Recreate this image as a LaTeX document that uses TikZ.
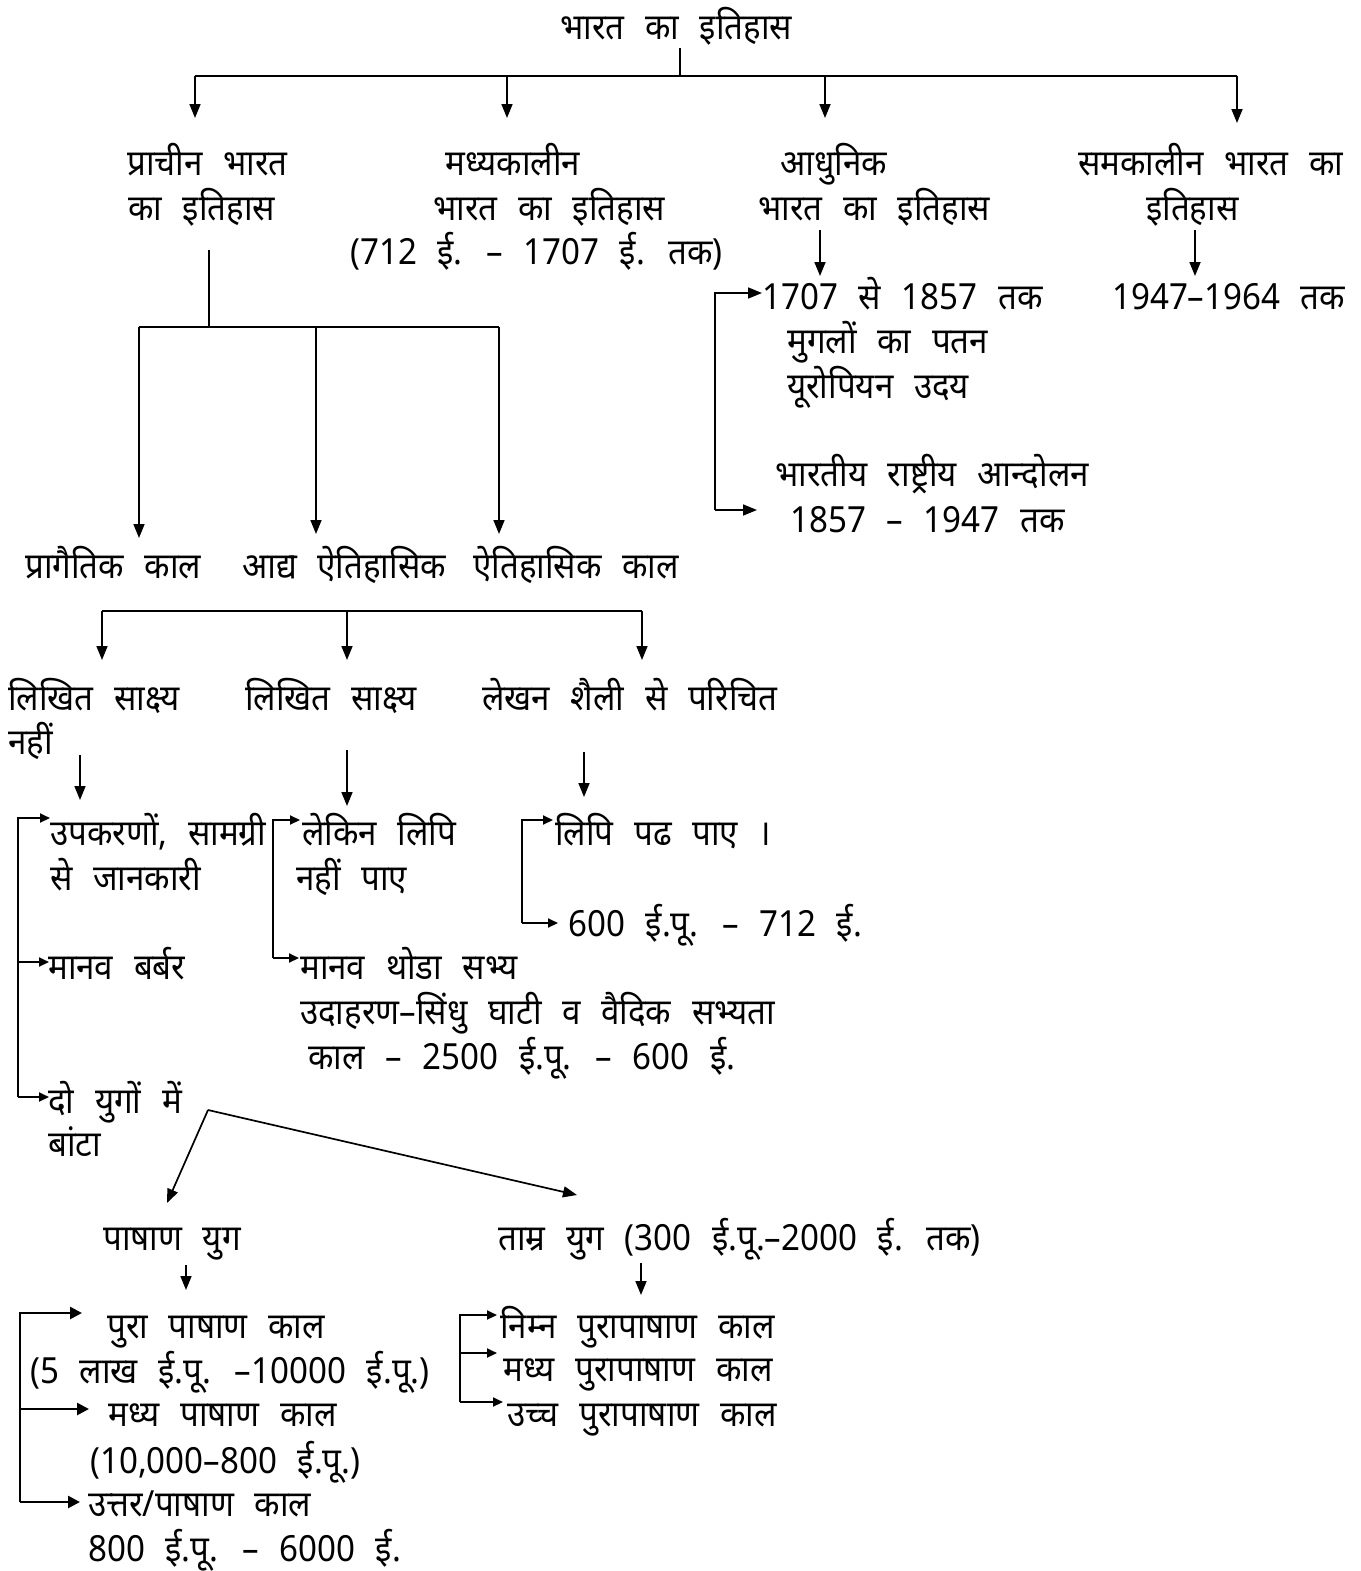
\documentclass[tikz,border=0pt]{standalone}
\usepackage{fontspec}
\setmainfont{Noto Sans}[Script=Devanagari, FakeStretch=0.92, WordSpace=2.4]
\usetikzlibrary{arrows.meta}
\newcommand{\fs}{\fontsize{36}{42}\selectfont}
\begin{document}
\begin{tikzpicture}[x=1pt,y=-1pt,
  txt/.style={anchor=base west, inner sep=0pt, yshift=-13pt, font=\fs},
  ln/.style={line width=1.7pt},
  arr/.style={line width=1.7pt, -{Triangle[length=14pt,width=11pt]}},
  sarr/.style={line width=2pt, -{Triangle[length=10pt,width=9pt]}},
  barr/.style={line width=2.6pt, -{Triangle[length=12pt,width=12pt]}}]
\fill[white] (0,0) rectangle (1360,1571);
\useasboundingbox (0,0) rectangle (1360,1571);
% ---- texts
\node[txt] (t0) at (560,27) {भारत का इतिहास};
\node[txt] (a1) at (127,162) {प्राचीन भारत};
\node[txt] (a2) at (128,207) {का इतिहास};
\node[txt] (b1) at (445,162) {मध्यकालीन};
\node[txt] (b2) at (433,207) {भारत का इतिहास};
\node[txt] (b3) at (350,251) {(712 ई. – 1707 ई. तक)};
\node[txt] (c1) at (780,162) {आधुनिक};
\node[txt] (c2) at (758,207) {भारत का इतिहास};
\node[txt] (d1) at (1078,162) {समकालीन भारत का};
\node[txt] (d2) at (1146,207) {इतिहास};
\node[txt] (e1) at (762,296) {1707 से 1857 तक};
\node[txt] (e2) at (787,340) {मुगलों का पतन};
\node[txt] (e3) at (787,385) {यूरोपियन उदय};
\node[txt] (e4) at (775,473) {भारतीय राष्ट्रीय आन्दोलन};
\node[txt] (e5) at (790,519) {1857 – 1947 तक};
\node[txt] (f1) at (1112,296) {1947–1964 तक};
\node[txt] (g1) at (25,565) {प्रागैतिक काल};
\node[txt] (g2) at (242,565) {आद्य ऐतिहासिक};
\node[txt] (g3) at (473,565) {ऐतिहासिक काल};
\node[txt] (h1) at (8,697) {लिखित साक्ष्य};
\node[txt] (h1b) at (8,741) {नहीं};
\node[txt] (h2) at (245,697) {लिखित साक्ष्य};
\node[txt] (h3) at (482,697) {लेखन शैली से परिचित};
\node[txt] (i1) at (50,832) {उपकरणों, सामग्री};
\node[txt] (i1b) at (50,877) {से जानकारी};
\node[txt] (i2) at (48,966) {मानव बर्बर};
\node[txt] (i3) at (48,1100) {दो युगों में};
\node[txt] (i3b) at (48,1143) {बांटा};
\node[txt] (j1) at (302,832) {लेकिन लिपि};
\node[txt] (j1b) at (296,877) {नहीं पाए};
\node[txt] (j2) at (300,966) {मानव थोडा सभ्य};
\node[txt] (j3) at (300,1011) {उदाहरण–सिंधु घाटी व वैदिक सभ्यता};
\node[txt] (j4) at (308,1056) {काल – 2500 ई.पू. – 600 ई.};
\node[txt] (k1) at (555,832) {लिपि पढ पाए ।};
\node[txt] (k2) at (568,923) {600 ई.पू. – 712 ई.};
\node[txt] (l1) at (103,1237) {पाषाण युग};
\node[txt] (l2) at (498,1237) {ताम्र युग (300 ई.पू.–2000 ई. तक)};
\node[txt] (m1) at (107,1325) {पुरा पाषाण काल};
\node[txt] (m2) at (30,1370) {(5 लाख ई.पू. –10000 ई.पू.)};
\node[txt] (m3) at (108,1413) {मध्य पाषाण काल};
\node[txt] (m4) at (90,1460) {(10,000–800 ई.पू.)};
\node[txt] (m5) at (88,1503) {उत्तर/पाषाण काल};
\node[txt] (m6) at (88,1548) {800 ई.पू. – 6000 ई.};
\node[txt] (n1) at (500,1325) {निम्न पुरापाषाण काल};
\node[txt] (n2) at (503,1368) {मध्य पुरापाषाण काल};
\node[txt] (n3) at (507,1413) {उच्च पुरापाषाण काल};
% ---- coordinates
\coordinate (r0) at (680,48);  \coordinate (r1) at (680,76);
\coordinate (rl) at (195,76);  \coordinate (rr) at (1237,76);
\coordinate (rb) at (507,76);  \coordinate (rc) at (825,76);
\coordinate (pa) at (195,118); \coordinate (pb) at (507,118);
\coordinate (pc) at (825,118); \coordinate (pd) at (1237,123);
\coordinate (c0) at (820,230); \coordinate (c9) at (820,276);
\coordinate (d0) at (1195,230); \coordinate (d9) at (1195,276);
\coordinate (eb1) at (715,293); \coordinate (eb2) at (715,510);
\coordinate (ea1) at (762,293); \coordinate (ea2) at (757,510);
\coordinate (s0) at (209,250); \coordinate (s1) at (209,327);
\coordinate (sl) at (139,327); \coordinate (sm) at (316,327); \coordinate (sr) at (499,327);
\coordinate (ga) at (139,538); \coordinate (gb) at (316,534); \coordinate (gc) at (499,534);
\coordinate (u1) at (102,611); \coordinate (u2) at (347,611); \coordinate (u3) at (642,611);
\coordinate (ha) at (102,660); \coordinate (hb) at (347,660); \coordinate (hc) at (642,660);
\coordinate (v1) at (80,755);  \coordinate (v1e) at (80,800);
\coordinate (v2) at (347,750); \coordinate (v2e) at (347,806);
\coordinate (v3) at (584,752); \coordinate (v3e) at (584,797);
\coordinate (L1) at (18,818); \coordinate (L2) at (18,962); \coordinate (L3) at (18,1097);
\coordinate (M1) at (273,820); \coordinate (M2) at (273,958);
\coordinate (R1) at (522,820); \coordinate (R2) at (522,923);
\coordinate (dg) at (208,1110); \coordinate (dl) at (167,1203); \coordinate (dr) at (577,1195);
\coordinate (w1) at (186,1265); \coordinate (w1e) at (186,1290);
\coordinate (w2) at (641,1263); \coordinate (w2e) at (641,1295);
\coordinate (P1) at (20,1313); \coordinate (P2) at (20,1409); \coordinate (P3) at (20,1502);
\coordinate (Q1) at (460,1315); \coordinate (Q2) at (460,1353); \coordinate (Q3) at (460,1402);
% ---- connectors
\draw[ln] (r0) -- (r1);
\draw[ln] (rl) -- (rr);
\draw[arr] (rl) -- (pa);
\draw[arr] (rb) -- (pb);
\draw[arr] (rc) -- (pc);
\draw[arr] (rr) -- (pd);
\draw[arr] (c0) -- (c9);
\draw[arr] (d0) -- (d9);
\draw[arr] (eb2) -- (eb1) -- (ea1);
\draw[arr] (eb2) -- (ea2);
\draw[ln] (s0) -- (s1);
\draw[ln] (sl) -- (sr);
\draw[arr] (sl) -- (ga);
\draw[arr] (sm) -- (gb);
\draw[arr] (sr) -- (gc);
\draw[ln] (u1) -- (u3);
\draw[arr] (u1) -- (ha);
\draw[arr] (u2) -- (hb);
\draw[arr] (u3) -- (hc);
\draw[arr] (v1) -- (v1e);
\draw[arr] (v2) -- (v2e);
\draw[arr] (v3) -- (v3e);
\draw[sarr] (L3) -- (L1) -- (50,818);
\draw[sarr] (L2) -- (49,962);
\draw[sarr] (L3) -- (49,1097);
\draw[sarr] (M2) -- (M1) -- (300,820);
\draw[sarr] (M2) -- (299,958);
\draw[sarr] (R2) -- (R1) -- (553,820);
\draw[sarr] (R2) -- (558,923);
\draw[arr] (dg) -- (dl);
\draw[arr] (dg) -- (dr);
\draw[arr] (w1) -- (w1e);
\draw[arr] (w2) -- (w2e);
\draw[barr] (P3) -- (P1) -- (82,1313);
\draw[barr] (P2) -- (89,1409);
\draw[barr] (P3) -- (80,1502);
\draw[sarr] (Q3) -- (Q1) -- (497,1315);
\draw[sarr] (Q2) -- (497,1353);
\draw[sarr] (Q3) -- (503,1402);
\end{tikzpicture}
\end{document}
